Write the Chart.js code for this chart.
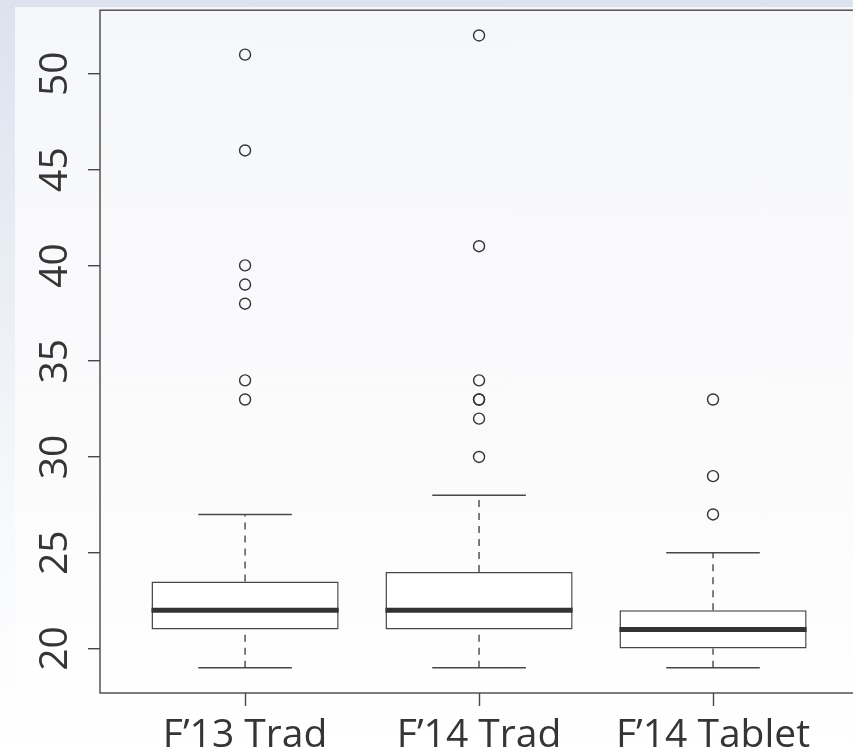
<!DOCTYPE html>
<html>
<head>
<meta charset="utf-8">
<script src="https://cdn.jsdelivr.net/npm/chart.js@4"></script>
<style>
  html, body { margin: 0; padding: 0; width: 853px; height: 752px; overflow: hidden; }
  body { background: linear-gradient(180deg, #dce2ee 0%, #e9edf4 35%, #f8f9fb 70%, #ffffff 100%); position: relative; }
  #panel { position: absolute; left: 15px; top: 7px; right: 0; bottom: 0;
           background: linear-gradient(180deg, #f6f7fa 0%, #fbfbfc 60%, #ffffff 100%); }
  #wrap { position: absolute; left: 0; top: 0; }
</style>
</head>
<body>
<div id="panel"></div>
<div id="wrap"><canvas id="boxChart" width="865" height="752"></canvas></div>
<script>
// Box plot values
const categories = ["F’13 Trad", "F’14 Trad", "F’14 Tablet"];
const whiskerLow = [19, 19, 19];
const q1 = [21, 21, 20];
const medians = [22, 22, 21];
const q3 = [23.5, 24, 22];
const whiskerHigh = [27, 28, 25];
const outliers = [
  [33, 34, 38, 39, 40, 46, 51],
  [30, 32, 33, 33, 34, 41, 52],
  [27, 29, 33],
];
const yTicks = [20, 25, 30, 35, 40, 45, 50];

const lineColor = "#474747";
const textColor = "#353535";
const labelFont = { family: "'Open Sans'", size: 39 };

// build datasets from the arrays
const boxData = categories.map((c, i) => ({ x: i + 1, y: [q1[i], q3[i]] }));
const stemData = [];
const capData = [];
const medianData = [];
categories.forEach((c, i) => {
  const x = i + 1;
  stemData.push({ x, y: q3[i] }, { x, y: whiskerHigh[i] }, { x, y: null });
  stemData.push({ x, y: whiskerLow[i] }, { x, y: q1[i] }, { x, y: null });
  capData.push({ x: x - 0.2, y: whiskerHigh[i] }, { x: x + 0.2, y: whiskerHigh[i] }, { x, y: null });
  capData.push({ x: x - 0.2, y: whiskerLow[i] }, { x: x + 0.2, y: whiskerLow[i] }, { x, y: null });
  medianData.push({ x: x - 0.4, y: medians[i] }, { x: x + 0.4, y: medians[i] }, { x, y: null });
});
const outlierData = [];
outliers.forEach((list, i) => list.forEach(v => outlierData.push({ x: i + 1, y: v })));

// frame around plot, x tick marks, rotated y labels (R style)
const rStyle = {
  id: "rStyle",
  afterDraw(chart) {
    const { ctx, chartArea: a, scales } = chart;
    ctx.save();
    ctx.setLineDash([]);
    ctx.strokeStyle = lineColor;
    ctx.lineWidth = 1.4;
    ctx.strokeRect(a.left, a.top, a.right - a.left, a.bottom - a.top);
    categories.forEach((c, i) => {
      const x = Math.round(scales.x.getPixelForValue(i + 1)) + 0.5;
      ctx.beginPath();
      ctx.moveTo(x, a.bottom);
      ctx.lineTo(x, a.bottom + 13);
      ctx.stroke();
    });
    ctx.fillStyle = textColor;
    ctx.font = labelFont.size + "px " + labelFont.family;
    ctx.textAlign = "center";
    ctx.textBaseline = "alphabetic";
    yTicks.forEach(v => {
      const y = scales.y.getPixelForValue(v);
      ctx.save();
      ctx.translate(67, y);
      ctx.rotate(-Math.PI / 2);
      ctx.fillText(String(v), 0, 0);
      ctx.restore();
    });
    ctx.restore();
  },
};

const lineDefaults = { type: "line", pointRadius: 0, pointHoverRadius: 0, spanGaps: false, fill: false };

new Chart(document.getElementById("boxChart"), {
  type: "bar",
  data: {
    datasets: [
      {
        type: "bar",
        data: boxData,
        backgroundColor: "#ffffff",
        borderColor: lineColor,
        borderWidth: 1.5,
        borderSkipped: false,
        barPercentage: 0.8,
        categoryPercentage: 1,
        order: 5,
      },
      { ...lineDefaults, data: stemData, borderColor: lineColor, borderWidth: 1.4, borderDash: [7, 6], order: 4 },
      { ...lineDefaults, data: capData, borderColor: lineColor, borderWidth: 1.4, order: 3 },
      { ...lineDefaults, data: medianData, borderColor: "#333333", borderWidth: 5, borderCapStyle: "butt", order: 1 },
      {
        type: "line",
        data: outlierData,
        showLine: false,
        pointStyle: "circle",
        pointRadius: 5.5,
        pointBorderWidth: 1.4,
        pointBorderColor: "#333333",
        pointBackgroundColor: "rgba(0,0,0,0)",
        order: 2,
      },
    ],
  },
  options: {
    responsive: false,
    animation: false,
    layout: { padding: { top: 10, right: 3, left: 0, bottom: 0 } },
    plugins: { legend: { display: false }, tooltip: { enabled: false } },
    scales: {
      x: {
        type: "linear",
        min: 0.38,
        max: 3.62,
        offset: false,
        afterBuildTicks: s => { s.ticks = categories.map((c, i) => ({ value: i + 1 })); },
        afterFit: s => { s.height = 59; },
        ticks: {
          callback: v => categories[v - 1],
          color: textColor,
          font: labelFont,
          padding: 6,
          maxRotation: 0,
          autoSkip: false,
        },
        grid: { display: false, tickLength: 13 },
        border: { display: false },
      },
      y: {
        type: "linear",
        min: 17.68,
        max: 53.32,
        afterBuildTicks: s => { s.ticks = yTicks.map(v => ({ value: v })); },
        afterFit: s => { s.width = 100; },
        ticks: { color: "rgba(0,0,0,0)", font: { size: 12 } },
        grid: { drawOnChartArea: false, tickLength: 12, color: lineColor, lineWidth: 1.4 },
        border: { display: false },
      },
    },
  },
  plugins: [rStyle],
});
</script>
</body>
</html>
